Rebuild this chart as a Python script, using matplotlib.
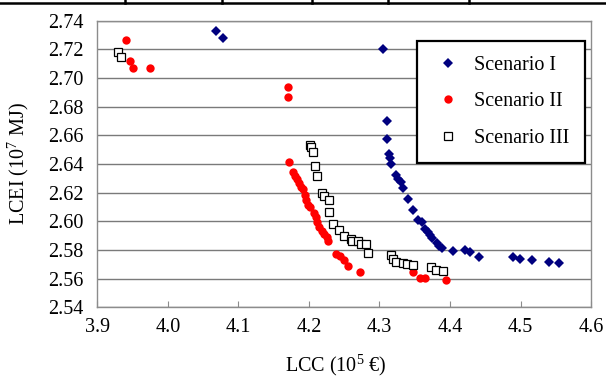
import matplotlib
matplotlib.use('Agg')
import matplotlib.pyplot as plt
from matplotlib.lines import Line2D

plt.rcParams['font.family'] = ['Liberation Serif', 'DejaVu Serif']
plt.rcParams['mathtext.fontset'] = 'custom'
plt.rcParams['mathtext.rm'] = 'Liberation Serif'
plt.rcParams['mathtext.it'] = 'Liberation Serif:italic'

# Scenario I (blue diamonds)
s1_lcc = [4.068, 4.078, 4.305, 4.311, 4.311, 4.313, 4.315, 4.317, 4.323, 4.327,
          4.331, 4.334, 4.341, 4.348, 4.354, 4.361, 4.364, 4.369, 4.372, 4.374,
          4.381, 4.385, 4.388, 4.404, 4.422, 4.428, 4.441, 4.489, 4.499, 4.516,
          4.540, 4.554]
s1_lcei = [2.7328, 2.7281, 2.7206, 2.6703, 2.6578, 2.6473, 2.6442, 2.6400, 2.6320, 2.6296,
           2.6277, 2.6231, 2.6154, 2.6079, 2.6010, 2.5996, 2.5947, 2.5928, 2.5905, 2.5881,
           2.5849, 2.5828, 2.5812, 2.5793, 2.5797, 2.5784, 2.5750, 2.5750, 2.5738, 2.5730,
           2.5719, 2.5708]

# Scenario II (red dots)
s2_lcc = [3.940, 3.946, 3.951, 3.975, 4.170, 4.170, 4.172, 4.177, 4.180, 4.183,
          4.186, 4.189, 4.192, 4.194, 4.196, 4.199, 4.201, 4.207, 4.210, 4.212,
          4.215, 4.218, 4.222, 4.225, 4.227, 4.238, 4.244, 4.250, 4.256, 4.272,
          4.347, 4.358, 4.364, 4.395]
s2_lcei = [2.7265, 2.7118, 2.7072, 2.7072, 2.6935, 2.6869, 2.6411, 2.6341, 2.6316, 2.6296,
           2.6268, 2.6243, 2.6226, 2.6187, 2.6149, 2.6114, 2.6097, 2.6058, 2.6030, 2.5996,
           2.5961, 2.5936, 2.5912, 2.5891, 2.5863, 2.5769, 2.5755, 2.5731, 2.5689, 2.5647,
           2.5647, 2.5605, 2.5605, 2.5591]

# Scenario III (open squares)
s3_lcc = [3.930, 3.934, 4.201, 4.203, 4.206, 4.208, 4.211, 4.218, 4.221, 4.228,
          4.228, 4.234, 4.242, 4.250, 4.259, 4.261, 4.270, 4.274, 4.281, 4.284,
          4.316, 4.319, 4.324, 4.333, 4.339, 4.348, 4.373, 4.380, 4.390]
s3_lcei = [2.7179, 2.7148, 2.6536, 2.6519, 2.6487, 2.6383, 2.6313, 2.6198, 2.6177, 2.6149,
           2.6067, 2.5982, 2.5940, 2.5895, 2.5877, 2.5860, 2.5863, 2.5840, 2.5840, 2.5777,
           2.5762, 2.5738, 2.5719, 2.5710, 2.5699, 2.5692, 2.5680, 2.5661, 2.5653]

x_ticks = [3.9, 4.0, 4.1, 4.2, 4.3, 4.4, 4.5, 4.6]
y_ticks = [2.54, 2.56, 2.58, 2.60, 2.62, 2.64, 2.66, 2.68, 2.70, 2.72, 2.74]

fig = plt.figure(figsize=(6.06, 3.78), dpi=100)
ax = fig.add_axes([0.1606, 0.187, 0.8147, 0.7582])

ax.plot(s1_lcc, s1_lcei, 'D', color='#00007F', markersize=5.2, markeredgewidth=0,
        label='Scenario I', zorder=3)
ax.plot(s2_lcc, s2_lcei, 'o', color='#FF0000', markersize=6, markeredgewidth=0,
        label='Scenario II', zorder=3)
ax.plot(s3_lcc, s3_lcei, 's', markerfacecolor='white', markeredgecolor='black',
        markersize=5.5, markeredgewidth=0.9, label='Scenario III', zorder=4)

ax.set_xlim(3.9, 4.6)
ax.set_ylim(2.54, 2.74)
ax.set_xticks(x_ticks)
ax.set_yticks(y_ticks)
ax.set_xticklabels(['%.1f' % v for v in x_ticks])
ax.set_yticklabels(['%.2f' % v for v in y_ticks])
ax.grid(axis='y', color='#7a7a7a', linewidth=1.0)
ax.set_axisbelow(True)
for sp in ax.spines.values():
    sp.set_color('#8c8c8c')
    sp.set_linewidth(1.0)
ax.tick_params(axis='x', direction='in', length=4, color='#8c8c8c', labelsize=14.5, pad=8)
ax.tick_params(axis='y', length=0, labelsize=14.5, pad=10)

ax.set_xlabel(r'LCC (10$^{5}$ €)', fontsize=14.5)
ax.xaxis.set_label_coords(0.483, -0.158)
ax.set_ylabel(r'LCEI (10$^{7}$ MJ)', fontsize=14.5)
ax.yaxis.set_label_coords(-0.134, 0.5)

leg = ax.legend(loc='upper left', bbox_to_anchor=(0.6476, 0.929), borderaxespad=0,
                fontsize=14.5, frameon=True, fancybox=False, framealpha=1,
                edgecolor='black', borderpad=0.75, labelspacing=0.85,
                handlelength=1.6, handletextpad=0.5)
leg.get_frame().set_linewidth(1.6)

# piece of the table border cut off at the top of the page
fig.add_artist(Line2D([0, 1], [1 - 2.5 / 378, 1 - 2.5 / 378], color='black', lw=1.8,
                      transform=fig.transFigure))
for px in [125, 222, 312, 388, 469]:
    fig.add_artist(Line2D([px / 606, px / 606], [1, 1 - 3 / 378], color='black', lw=1.8,
                          transform=fig.transFigure))

fig.savefig('out.png', dpi=100)
